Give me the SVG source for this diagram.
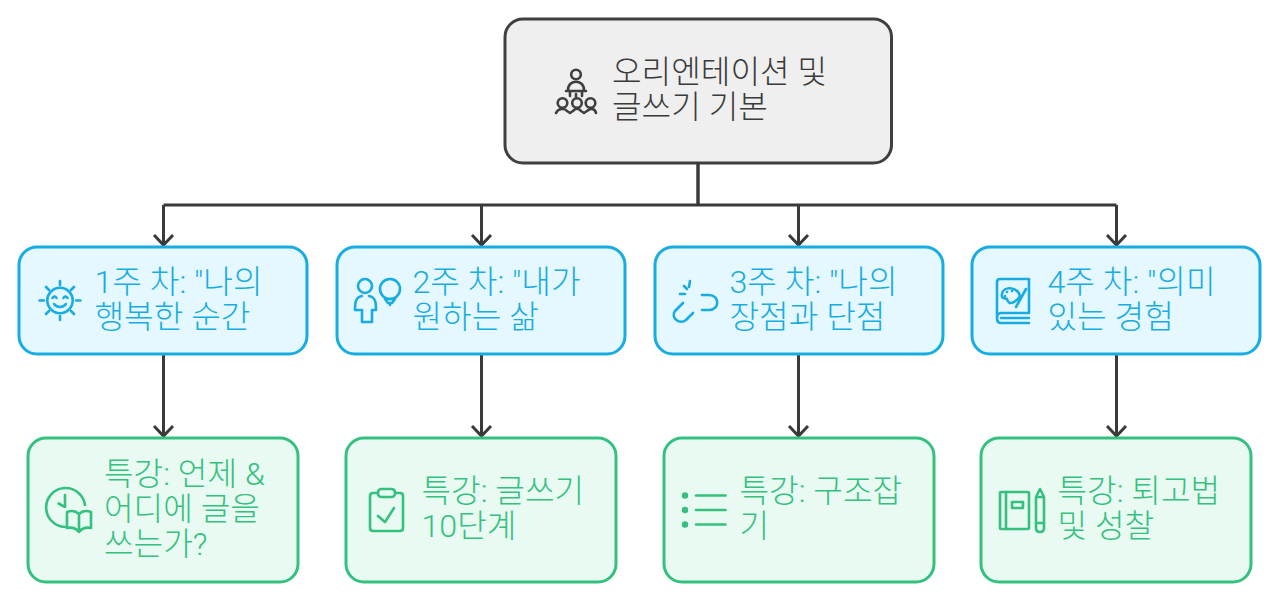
<svg xmlns="http://www.w3.org/2000/svg" width="1280" height="602" viewBox="0 0 1280 602">
<style>
text{font-family:"Roboto","Noto Sans CJK KR",sans-serif;font-size:32.200px;font-weight:300}
.box{stroke-width:3}
.root rect{fill:#efefef;stroke:#3f3f3f}
.root text{fill:#3a3a3a}
.blue rect{fill:#e5f7ff;stroke:#17ade2}
.blue text{fill:#17ade2}
.green rect{fill:#e8faf2;stroke:#34c17f}
.green text{fill:#34c17f}
.ic{fill:none;stroke-width:2.6;stroke-linecap:round;stroke-linejoin:round}
.root .ic{stroke:#3f3f3f}
.blue .ic{stroke:#17ade2}
.green .ic{stroke:#34c17f}
.dot{fill:#34c17f}
.c{fill:none;stroke:#3a3a3a;stroke-width:3}
</style>
<defs>
<marker id="arrow" markerUnits="userSpaceOnUse" markerWidth="16" markerHeight="24" refX="13" refY="12" orient="auto" viewBox="0 0 16 24"><path d="M3 2.500L13 12L3 21.500" fill="none" stroke="#3a3a3a" stroke-width="3"/></marker>
</defs>
<g id="connectors">
<path class="c" style="stroke-width:3.500" d="M698 163V205"/>
<path class="c" d="M163.500 205H1116.500"/>
<path class="c" d="M163.500 205V245" marker-end="url(#arrow)"/>
<path class="c" d="M481.500 205V245" marker-end="url(#arrow)"/>
<path class="c" d="M798.500 205V245" marker-end="url(#arrow)"/>
<path class="c" d="M1116.500 205V245" marker-end="url(#arrow)"/>
<path class="c" d="M163.500 354V436" marker-end="url(#arrow)"/>
<path class="c" d="M481.500 354V436" marker-end="url(#arrow)"/>
<path class="c" d="M798.500 354V436" marker-end="url(#arrow)"/>
<path class="c" d="M1116.500 354V436" marker-end="url(#arrow)"/>
</g>
<g id="root" class="root">
<rect class="box" x="505" y="19" width="386.500" height="144" rx="18"/>
<g class="ic"><circle cx="576" cy="74.500" r="4.800"/><path d="M568 90c0-11 16-11 16 0M566 91H586M570 91V96M582 91V96M576 94V97"/><circle cx="562.500" cy="103" r="4.800"/><circle cx="577" cy="103" r="4.800"/><circle cx="590.500" cy="103" r="4.800"/><path d="M556 113c2-5 9-5 11-2l3 2 3-2c2-3 6-3 8 0l3 2 3-2c3-3 8-3 9 2"/></g>
<text x="612" y="83">오리엔테이션 및</text>
<text x="612" y="118">글쓰기 기본</text>
</g>
<g id="week1" class="blue">
<rect class="box" x="19" y="247" width="288" height="107" rx="18"/>
<g class="ic"><circle cx="60" cy="300.500" r="12.700"/><path d="M60 281V285M60 316V320M39.500 300.500H44M76 300.500H80.500M46 287L49 290M71 311L74 314M74 287L71 290M49 311L46 314M52.500 298c1-2 3-2 4 0M63.500 298c1-2 3-2 4 0M54 304c3 4 9 4 12 0"/></g>
<text x="94.500" y="293">1주 차: "나의</text>
<text x="94.500" y="328">행복한 순간</text>
</g>
<g id="week2" class="blue">
<rect class="box" x="337" y="247" width="288" height="107" rx="18"/>
<g class="ic"><circle cx="365" cy="286" r="7"/><path d="M362 296C355 297 355 304 355 310H362V322H372V310H376C376 304 376 297 369 296"/><circle cx="390" cy="289" r="10"/><path d="M385 299H395L392 303H388ZM390 303V305"/></g>
<text x="412.500" y="293">2주 차: "내가</text>
<text x="412.500" y="328">원하는 삶</text>
</g>
<g id="week3" class="blue">
<rect class="box" x="655" y="247" width="288" height="107" rx="18"/>
<g class="ic"><path d="M683 303L675 311C670 318 680 325 686 320L693 313M702 295H709C720 295 720 310 709 310H702M690 281L689 287M680 294L685 294M684 286L687 289"/></g>
<text x="729.500" y="293">3주 차: "나의</text>
<text x="729.500" y="328">장점과 단점</text>
</g>
<g id="week4" class="blue">
<rect class="box" x="972" y="247" width="288" height="107" rx="18"/>
<g class="ic"><path d="M997 318V282Q997 279 1000 279H1029V313H1001Q997 313 997 318Q997 323 1001 323H1029M1001 318H1029"/><path d="M1020 296C1017 286 1003 286 1002 294C1001 299 1005 298 1007 299C1008 303 1010 304 1014 302C1017 300 1019 299 1020 296ZM1026 289L1016 307M1007 292h.1M1012 291h.1M1005 296h.1"/></g>
<text x="1047.500" y="293">4주 차: "의미</text>
<text x="1047.500" y="328">있는 경험</text>
</g>
<g id="lecture1" class="green">
<rect class="box" x="28" y="438" width="270" height="144" rx="18"/>
<g class="ic"><path d="M85 505A19.500 19.500 0 1 0 65 527M65 495V507L58.500 503.500M67 512C72 510 76 511 79 514C82 511 86 510 91 512V528C86 527 82 528 79 532C76 528 72 527 67 528ZM79 514V532"/></g>
<text x="104" y="485">특강: 언제 &amp;</text>
<text x="104" y="520">어디에 글을</text>
<text x="104" y="555">쓰는가?</text>
</g>
<g id="lecture2" class="green">
<rect class="box" x="346" y="438" width="270" height="144" rx="18"/>
<g class="ic"><path d="M378 493H373Q370 493 370 496V528Q370 531 373 531H400Q403 531 403 528V496Q403 493 400 493H395"/><rect x="378" y="489" width="17" height="8" rx="3.500"/><path d="M378 516L385 522L394 508"/></g>
<text x="421.500" y="502">특강: 글쓰기</text>
<text x="421.500" y="537">10단계</text>
</g>
<g id="lecture3" class="green">
<rect class="box" x="664" y="438" width="270" height="144" rx="18"/>
<g class="ic"><path d="M696 495.500H725.500M696 510H725.500M696 524.500H725.500"/></g>
<circle class="dot" cx="685" cy="495.500" r="3.200"/><circle class="dot" cx="685" cy="510" r="3.200"/><circle class="dot" cx="685" cy="524.500" r="3.200"/>
<text x="739.500" y="502">특강: 구조잡</text>
<text x="739.500" y="537">기</text>
</g>
<g id="lecture4" class="green">
<rect class="box" x="981" y="438" width="270" height="144" rx="18"/>
<g class="ic"><rect x="1000" y="492" width="29" height="37" rx="1"/><path d="M1006 492V529"/><rect x="1012" y="502" width="11" height="6"/><path d="M1036 528V497L1040 489L1044 497V528Q1044 532 1040 532Q1036 532 1036 528ZM1036 497H1044M1036 523H1044"/></g>
<text x="1057.500" y="502">특강: 퇴고법</text>
<text x="1057.500" y="537">및 성찰</text>
</g>
</svg>
